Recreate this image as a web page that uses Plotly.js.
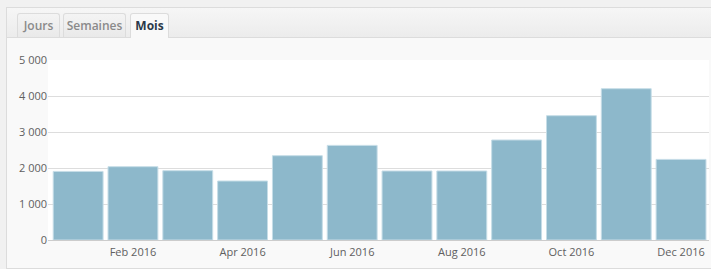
<!DOCTYPE html>
<html><head><meta charset="utf-8">
<script src="https://cdn.plot.ly/plotly-3.0.1.min.js"></script>
<style>
html,body{margin:0;padding:0;background:#f1f1f1;width:711px;height:269px;overflow:hidden;font-family:"Open Sans",sans-serif;}
#panel{position:absolute;left:6px;top:7px;width:705px;height:260px;border:1px solid #dcdcdc;border-right:none;background:#f9f9f9;}
#tabbar{position:absolute;left:0;top:0;width:705px;height:29px;background:linear-gradient(#f6f6f6,#ececec);border-bottom:1px solid #dcdcdc;}
.tab{position:absolute;top:5px;height:23px;border:1px solid #dcdcdc;border-bottom:none;border-radius:3px 3px 0 0;font-size:12px;font-weight:600;color:#8a8a8a;line-height:23px;text-align:center;background:linear-gradient(#f4f4f4,#e9e9e9);}
.tab.active{background:#f9f9f9;color:#2b3a4a;font-weight:700;height:24px;}
#chart{position:absolute;left:0;top:38px;width:711px;height:229px;}
</style></head>
<body>
<div id="panel">
  <div id="tabbar">
    <div class="tab" style="left:10px;width:41px;">Jours</div>
    <div class="tab" style="left:56px;width:61px;">Semaines</div>
    <div class="tab active" style="left:123px;width:37px;">Mois</div>
  </div>
</div>
<div id="chart"></div>
<script>
var months = ["Jan 2016","Feb 2016","Mar 2016","Apr 2016","May 2016","Jun 2016","Jul 2016","Aug 2016","Sep 2016","Oct 2016","Nov 2016","Dec 2016"];
var values = [1905, 2036, 1925, 1639, 2342, 2628, 1917, 1917, 2778, 3453, 4203, 2239];
var tickIdx = [1, 3, 5, 7, 9, 11];
var yTicks = [0, 1000, 2000, 3000, 4000, 5000];

var xs = months.map(function(m, i){ return i; });
var trace = {
  type: 'bar', x: xs, y: values, hovertext: months, hoverinfo: 'text+y', textposition: 'none',
  marker: {color: '#8db8cb', line: {color: '#c6dde7', width: 1}}
};
var layout = {
  width: 711, height: 229,
  margin: {l: 48, r: 2, t: 22, b: 27},
  paper_bgcolor: 'rgba(0,0,0,0)', plot_bgcolor: '#ffffff',
  separators: ', ',
  bargap: 0.09,
  showlegend: false,
  font: {family: '"Open Sans", sans-serif', size: 11, color: '#666666'},
  xaxis: {
    range: [-0.55, 11.51], tickmode: 'array', tickvals: tickIdx,
    ticktext: tickIdx.map(function(i){ return months[i]; }),
    showgrid: false, zeroline: false, showline: true, linecolor: '#cccccc', linewidth: 1,
    ticks: 'outside', ticklen: 2, tickcolor: 'rgba(0,0,0,0)',
    tickfont: {size: 11, color: '#606060'}, fixedrange: true
  },
  yaxis: {
    range: [0, 5000], tickmode: 'array', tickvals: yTicks,
    tickformat: ',d', showgrid: true, gridcolor: '#dddddd', gridwidth: 1,
    zeroline: false, ticks: '', tickfont: {size: 11, color: '#606060'}, fixedrange: true
  }
};
Plotly.newPlot('chart', [trace], layout, {displayModeBar: false, staticPlot: true});
</script>
</body></html>
